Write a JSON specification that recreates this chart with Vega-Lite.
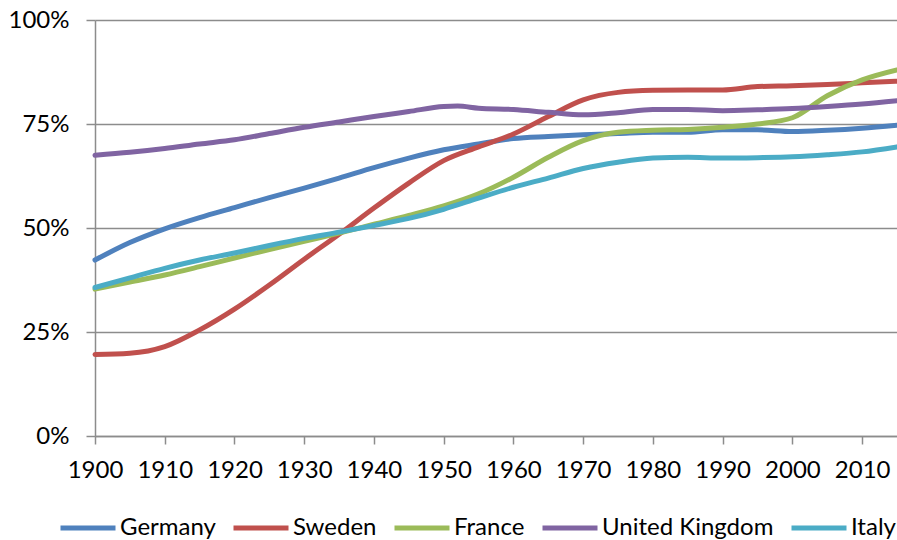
{
  "$schema": "https://vega.github.io/schema/vega-lite/v6.json",
  "width": 802,
  "height": 416,
  "autosize": {"type": "none"},
  "padding": {"left": 95, "top": 20, "right": 0, "bottom": 104},
  "background": "white",
  "config": {"view": {"stroke": null}, "font": "Lato"},
  "data": {"values": [
    {"c":"Germany","year":1900,"v":0.423},{"c":"Germany","year":1905,"v":0.465},{"c":"Germany","year":1910,"v":0.498},{"c":"Germany","year":1915,"v":0.525},{"c":"Germany","year":1920,"v":0.549},{"c":"Germany","year":1925,"v":0.573},{"c":"Germany","year":1930,"v":0.596},{"c":"Germany","year":1935,"v":0.620},{"c":"Germany","year":1940,"v":0.645},{"c":"Germany","year":1945,"v":0.668},{"c":"Germany","year":1950,"v":0.688},{"c":"Germany","year":1955,"v":0.702},{"c":"Germany","year":1960,"v":0.715},{"c":"Germany","year":1965,"v":0.720},{"c":"Germany","year":1970,"v":0.724},{"c":"Germany","year":1975,"v":0.727},{"c":"Germany","year":1980,"v":0.730},{"c":"Germany","year":1985,"v":0.730},{"c":"Germany","year":1990,"v":0.736},{"c":"Germany","year":1995,"v":0.736},{"c":"Germany","year":2000,"v":0.732},{"c":"Germany","year":2005,"v":0.735},{"c":"Germany","year":2010,"v":0.740},{"c":"Germany","year":2015,"v":0.747},
    {"c":"Sweden","year":1900,"v":0.196},{"c":"Sweden","year":1905,"v":0.199},{"c":"Sweden","year":1910,"v":0.215},{"c":"Sweden","year":1915,"v":0.255},{"c":"Sweden","year":1920,"v":0.305},{"c":"Sweden","year":1925,"v":0.363},{"c":"Sweden","year":1930,"v":0.425},{"c":"Sweden","year":1935,"v":0.485},{"c":"Sweden","year":1940,"v":0.548},{"c":"Sweden","year":1945,"v":0.608},{"c":"Sweden","year":1950,"v":0.662},{"c":"Sweden","year":1955,"v":0.695},{"c":"Sweden","year":1960,"v":0.726},{"c":"Sweden","year":1965,"v":0.768},{"c":"Sweden","year":1970,"v":0.808},{"c":"Sweden","year":1975,"v":0.826},{"c":"Sweden","year":1980,"v":0.831},{"c":"Sweden","year":1985,"v":0.832},{"c":"Sweden","year":1990,"v":0.832},{"c":"Sweden","year":1995,"v":0.840},{"c":"Sweden","year":2000,"v":0.842},{"c":"Sweden","year":2005,"v":0.845},{"c":"Sweden","year":2010,"v":0.849},{"c":"Sweden","year":2015,"v":0.853},
    {"c":"France","year":1900,"v":0.353},{"c":"France","year":1905,"v":0.370},{"c":"France","year":1910,"v":0.387},{"c":"France","year":1915,"v":0.407},{"c":"France","year":1920,"v":0.428},{"c":"France","year":1925,"v":0.448},{"c":"France","year":1930,"v":0.468},{"c":"France","year":1935,"v":0.488},{"c":"France","year":1940,"v":0.509},{"c":"France","year":1945,"v":0.530},{"c":"France","year":1950,"v":0.553},{"c":"France","year":1955,"v":0.582},{"c":"France","year":1960,"v":0.622},{"c":"France","year":1965,"v":0.670},{"c":"France","year":1970,"v":0.710},{"c":"France","year":1975,"v":0.730},{"c":"France","year":1980,"v":0.735},{"c":"France","year":1985,"v":0.737},{"c":"France","year":1990,"v":0.742},{"c":"France","year":1995,"v":0.750},{"c":"France","year":2000,"v":0.765},{"c":"France","year":2005,"v":0.818},{"c":"France","year":2010,"v":0.856},{"c":"France","year":2015,"v":0.880},
    {"c":"United Kingdom","year":1900,"v":0.675},{"c":"United Kingdom","year":1905,"v":0.682},{"c":"United Kingdom","year":1910,"v":0.691},{"c":"United Kingdom","year":1915,"v":0.702},{"c":"United Kingdom","year":1920,"v":0.712},{"c":"United Kingdom","year":1925,"v":0.727},{"c":"United Kingdom","year":1930,"v":0.742},{"c":"United Kingdom","year":1935,"v":0.755},{"c":"United Kingdom","year":1940,"v":0.768},{"c":"United Kingdom","year":1945,"v":0.780},{"c":"United Kingdom","year":1950,"v":0.792},{"c":"United Kingdom","year":1952,"v":0.793},{"c":"United Kingdom","year":1955,"v":0.788},{"c":"United Kingdom","year":1960,"v":0.785},{"c":"United Kingdom","year":1965,"v":0.778},{"c":"United Kingdom","year":1970,"v":0.772},{"c":"United Kingdom","year":1975,"v":0.777},{"c":"United Kingdom","year":1980,"v":0.785},{"c":"United Kingdom","year":1985,"v":0.785},{"c":"United Kingdom","year":1990,"v":0.782},{"c":"United Kingdom","year":1995,"v":0.784},{"c":"United Kingdom","year":2000,"v":0.787},{"c":"United Kingdom","year":2005,"v":0.792},{"c":"United Kingdom","year":2010,"v":0.798},{"c":"United Kingdom","year":2015,"v":0.806},
    {"c":"Italy","year":1900,"v":0.357},{"c":"Italy","year":1905,"v":0.380},{"c":"Italy","year":1910,"v":0.403},{"c":"Italy","year":1915,"v":0.423},{"c":"Italy","year":1920,"v":0.440},{"c":"Italy","year":1925,"v":0.458},{"c":"Italy","year":1930,"v":0.475},{"c":"Italy","year":1935,"v":0.490},{"c":"Italy","year":1940,"v":0.506},{"c":"Italy","year":1945,"v":0.523},{"c":"Italy","year":1950,"v":0.545},{"c":"Italy","year":1955,"v":0.572},{"c":"Italy","year":1960,"v":0.598},{"c":"Italy","year":1965,"v":0.620},{"c":"Italy","year":1970,"v":0.643},{"c":"Italy","year":1975,"v":0.658},{"c":"Italy","year":1980,"v":0.668},{"c":"Italy","year":1985,"v":0.670},{"c":"Italy","year":1990,"v":0.668},{"c":"Italy","year":1995,"v":0.669},{"c":"Italy","year":2000,"v":0.671},{"c":"Italy","year":2005,"v":0.676},{"c":"Italy","year":2010,"v":0.683},{"c":"Italy","year":2015,"v":0.695}
  ]},
  "mark": {"type": "line", "interpolate": "monotone", "strokeWidth": 5, "strokeCap": "round"},
  "encoding": {
    "x": {
      "field": "year", "type": "quantitative",
      "scale": {"domain": [1900, 2015], "nice": false, "zero": false},
      "axis": {"values": [1900,1910,1920,1930,1940,1950,1960,1970,1980,1990,2000,2010], "format": "d", "title": null, "grid": false,
        "domainColor": "#8c8c8c", "domainWidth": 1.5, "tickColor": "#8c8c8c", "tickWidth": 1.5, "tickSize": 8,
        "labelFontSize": 24, "labelColor": "#000", "labelPadding": 14, "labelFlush": false, "labelOverlap": false}
    },
    "y": {
      "field": "v", "type": "quantitative",
      "scale": {"domain": [0, 1], "nice": false},
      "axis": {"values": [0, 0.25, 0.5, 0.75, 1], "format": ".0%", "title": null, "grid": true,
        "gridColor": "#8c8c8c", "gridWidth": 1.5, "domainColor": "#8c8c8c", "domainWidth": 1.5,
        "tickColor": "#8c8c8c", "tickWidth": 1.5, "tickSize": 9,
        "labelFontSize": 24, "labelColor": "#000", "labelPadding": 17, "labelOverlap": false}
    },
    "color": {
      "field": "c", "type": "nominal",
      "scale": {"domain": ["Germany", "Sweden", "France", "United Kingdom", "Italy"], "range": ["#4F81BD", "#C0504D", "#9BBB59", "#8064A2", "#4BACC6"]},
      "legend": {"orient": "none", "legendX": -37, "legendY": 478, "padding": 0, "direction": "horizontal", "columns": 5, "title": null,
        "symbolType": "stroke", "symbolSize": 3025, "symbolStrokeWidth": 5, "labelFontSize": 24, "labelOffset": 2, "labelLimit": 400,
        "columnPadding": 7, "labelColor": "#000"}
    }
  }
}
